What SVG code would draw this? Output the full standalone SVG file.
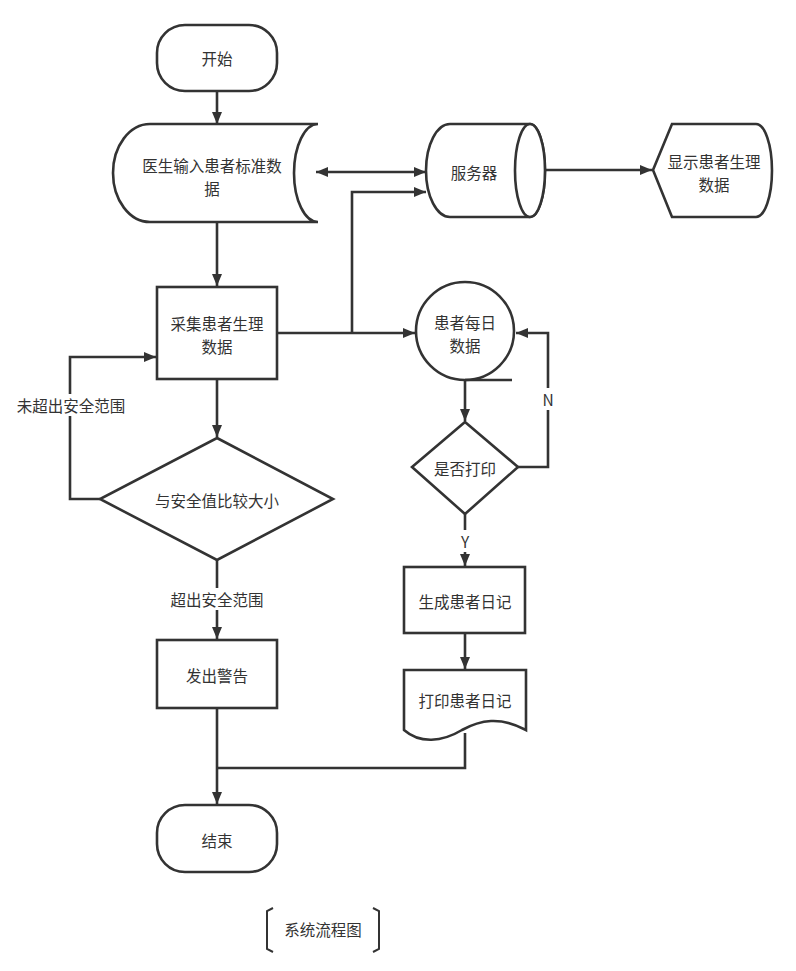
<svg xmlns="http://www.w3.org/2000/svg" width="796" height="971" viewBox="0 0 796 971">
<defs>
<style>
.s{fill:#fff;stroke:#333;stroke-width:2.6}
.c{fill:none;stroke:#333;stroke-width:2.6}
text{font-family:"Noto Sans CJK SC","Microsoft YaHei",sans-serif;font-size:15.5px;fill:#333;text-anchor:middle;dominant-baseline:central}
.lb{fill:#fff;stroke:none}
</style>
<marker id="a" markerUnits="userSpaceOnUse" viewBox="0 0 12 10" refX="12" refY="5" markerWidth="12" markerHeight="10" orient="auto-start-reverse">
<path d="M0,0 L12,5 L0,10 Z" fill="#333"/>
</marker>
</defs>
<rect width="796" height="971" fill="#fff"/>

<g id="connectors">
<path class="c" d="M217,91 L217,124" marker-end="url(#a)"/>
<path class="c" d="M217,223 L217,286" marker-end="url(#a)"/>
<path class="c" d="M316,172 L426,172" marker-start="url(#a)" marker-end="url(#a)"/>
<path class="c" d="M277,333 L415,333" marker-end="url(#a)"/>
<path class="c" d="M352,333 L352,192 L426,192" marker-end="url(#a)"/>
<path class="c" d="M545,170 L652,170" marker-end="url(#a)"/>
<path class="c" d="M217,379 L217,437" marker-end="url(#a)"/>
<path class="c" d="M100,499 L70,499 L70,357 L156,357" marker-end="url(#a)"/>
<path class="c" d="M217,560 L217,639" marker-end="url(#a)"/>
<path class="c" d="M217,708 L217,804" marker-end="url(#a)"/>
<path class="c" d="M465,380 L465,421" marker-end="url(#a)"/>
<path class="c" d="M518,467 L548,467 L548,333 L516,333" marker-end="url(#a)"/>
<path class="c" d="M465,514 L465,566" marker-end="url(#a)"/>
<path class="c" d="M465,633 L465,669" marker-end="url(#a)"/>
<path class="c" d="M465,733 L465,768 L217,768"/>
<rect class="lb" x="12" y="394" width="118" height="22"/>
<text x="71" y="405">未超出安全范围</text>
<rect class="lb" x="165" y="588" width="104" height="22"/>
<text x="217" y="599">超出安全范围</text>
<rect class="lb" x="540" y="388" width="16" height="22"/>
<text x="548" y="399">N</text>
<rect class="lb" x="457" y="530" width="16" height="22"/>
<text x="465" y="541">Y</text>
</g>

<g id="start">
<rect class="s" x="157" y="25" width="120" height="66" rx="28" ry="28"/>
<text x="217" y="58">开始</text>
</g>

<g id="input">
<path class="s" d="M150,124 L318,124 A24,49 0 0 0 318,222 L150,222 A37,49 0 0 1 150,124 Z"/>
<text x="212" y="165">医生输入患者标准数</text>
<text x="212" y="188">据</text>
</g>

<g id="server">
<path class="s" d="M450,124 L530,124 A15,46.5 0 0 1 530,217 L450,217 A24,46.5 0 0 1 450,124 Z"/>
<ellipse class="s" cx="530" cy="170.5" rx="15" ry="46.5"/>
<text x="474" y="172">服务器</text>
</g>

<g id="display">
<path class="s" d="M653,170 L672,124 L756,124 A16,46.5 0 0 1 756,217 L672,217 Z"/>
<text x="714" y="161">显示患者生理</text>
<text x="714" y="184">数据</text>
</g>

<g id="collect">
<rect class="s" x="157" y="287" width="120" height="92"/>
<text x="217" y="323">采集患者生理</text>
<text x="217" y="346">数据</text>
</g>

<g id="compare">
<path class="s" d="M217,438 L333,499 L217,560 L100,499 Z"/>
<text x="217" y="500">与安全值比较大小</text>
</g>

<g id="alarm">
<rect class="s" x="157" y="640" width="120" height="68"/>
<text x="217" y="675">发出警告</text>
</g>

<g id="end">
<rect class="s" x="157" y="805" width="120" height="67" rx="28" ry="28"/>
<text x="217" y="840">结束</text>
</g>

<g id="daily">
<circle class="s" cx="465" cy="331" r="49"/>
<path class="c" d="M465,380 L512,380"/>
<text x="465" y="322">患者每日</text>
<text x="465" y="345">数据</text>
</g>

<g id="print-q">
<path class="s" d="M465,422 L518,467 L465,514 L412,467 Z"/>
<text x="465" y="468">是否打印</text>
</g>

<g id="gen-log">
<rect class="s" x="404" y="567" width="121" height="66"/>
<text x="465" y="601">生成患者日记</text>
</g>

<g id="print-log">
<path class="s" d="M404,670 L526,670 L526,730 C500,716 480,720 462,730 C442,742 420,744 404,730 Z"/>
<text x="465" y="700">打印患者日记</text>
</g>

<g id="caption">
<path d="M273,908 L267,911 L267,949 L273,952" fill="none" stroke="#333" stroke-width="2"/>
<path d="M373,908 L379,911 L379,949 L373,952" fill="none" stroke="#333" stroke-width="2"/>
<text x="323" y="929">系统流程图</text>
</g>
</svg>
